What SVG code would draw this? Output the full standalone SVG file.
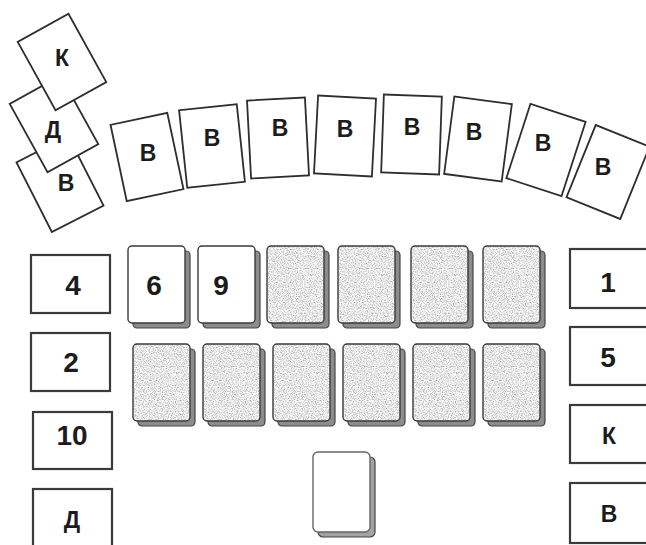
<svg xmlns="http://www.w3.org/2000/svg" xmlns:xlink="http://www.w3.org/1999/xlink" width="646" height="545" viewBox="0 0 646 545">
<style>
.card{fill:#fff;stroke:#2e2e2e;stroke-width:1.8}
.box{fill:#fff;stroke:#3a3a3a;stroke-width:2.2}
.face{fill:#fff;stroke:#3a3a3a;stroke-width:1.4}
.back{fill:#8c8c8c;stroke:#444;stroke-width:1.2}
.rim{fill:none;stroke:#3a3a3a;stroke-width:1.4}
.lbl{font-family:"Liberation Sans",Arial,sans-serif;font-weight:bold;text-anchor:middle;fill:#1c1c1c}
.big{font-size:28px}
.let{font-size:23px}
</style>
<defs>
<filter id="tex" x="0" y="0" width="1" height="1">
<feTurbulence type="fractalNoise" baseFrequency="0.85" numOctaves="2" seed="7" result="n"/>
<feColorMatrix in="n" type="matrix" values="1.3 0 0 0 0.15  1.3 0 0 0 0.15  1.3 0 0 0 0.15  0 0 0 0 1" result="g"/>
<feComposite in="g" in2="SourceGraphic" operator="in"/>
</filter>
<g id="slab"><rect x="5" y="5" width="57" height="77" rx="4" class="back"/></g>
<g id="greyface"><rect x="0" y="0" width="57" height="77" rx="4" fill="#bbb" filter="url(#tex)"/><rect x="0" y="0" width="57" height="77" rx="4" class="rim"/></g>
<g id="whiteface"><rect x="0" y="0" width="57" height="77" rx="4" class="face"/></g>
</defs>

<g id="connectors"/>

<!-- top-left stacked cards -->
<g id="tl-v"><rect x="-29" y="-39" width="58" height="78" class="card" transform="translate(60 184) rotate(-27)"/><text x="66" y="191" class="lbl let">В</text></g>
<g id="tl-d"><rect x="-29" y="-39" width="58" height="78" class="card" transform="translate(54 124) rotate(-29)"/><text x="53" y="138" class="lbl let">Д</text></g>
<g id="tl-k"><rect x="-29" y="-39" width="58" height="78" class="card" transform="translate(62 62) rotate(-29)"/><text x="62" y="66" class="lbl let">К</text></g>

<!-- arc of cards -->
<g id="arc-1"><rect x="-29" y="-39" width="58" height="78" class="card" transform="translate(147 157) rotate(-12)"/><text x="148" y="161" class="lbl let">В</text></g>
<g id="arc-2"><rect x="-29" y="-39" width="58" height="78" class="card" transform="translate(212 146) rotate(-6)"/><text x="212" y="146" class="lbl let">В</text></g>
<g id="arc-3"><rect x="-29" y="-39" width="58" height="78" class="card" transform="translate(278 138) rotate(-3)"/><text x="280" y="136" class="lbl let">В</text></g>
<g id="arc-4"><rect x="-29" y="-39" width="58" height="78" class="card" transform="translate(345 136) rotate(3)"/><text x="345" y="137" class="lbl let">В</text></g>
<g id="arc-5"><rect x="-29" y="-39" width="58" height="78" class="card" transform="translate(411.5 134.5) rotate(2)"/><text x="412" y="135" class="lbl let">В</text></g>
<g id="arc-6"><rect x="-29" y="-39" width="58" height="78" class="card" transform="translate(478 139) rotate(7.5)"/><text x="474" y="140" class="lbl let">В</text></g>
<g id="arc-7"><rect x="-29" y="-39" width="58" height="78" class="card" transform="translate(546 150) rotate(18)"/><text x="543" y="151" class="lbl let">В</text></g>
<g id="arc-8"><rect x="-29" y="-39" width="58" height="78" class="card" transform="translate(608 172) rotate(22)"/><text x="603" y="175" class="lbl let">В</text></g>

<!-- left column -->
<g id="left-4"><rect x="31" y="255" width="79" height="58" class="box"/><text x="73" y="295" class="lbl big">4</text></g>
<g id="left-2"><rect x="31" y="333" width="79" height="58" class="box"/><text x="71" y="372" class="lbl big">2</text></g>
<g id="left-10"><rect x="33" y="412" width="79" height="57" class="box"/><text x="72" y="445" class="lbl big">10</text></g>
<g id="left-d"><rect x="33" y="489" width="79" height="62" class="box"/><text x="72" y="528" class="lbl let">Д</text></g>

<!-- right column -->
<g id="right-1"><rect x="570" y="249" width="82" height="59" class="box"/><text x="608" y="292" class="lbl big">1</text></g>
<g id="right-5"><rect x="570" y="327" width="82" height="58" class="box"/><text x="608" y="367" class="lbl big">5</text></g>
<g id="right-k"><rect x="570" y="405" width="82" height="58" class="box"/><text x="609" y="444" class="lbl let">К</text></g>
<g id="right-v"><rect x="570" y="483" width="82" height="60" class="box"/><text x="609" y="522" class="lbl let">В</text></g>

<!-- piles row 1 -->
<g id="pile-6" transform="translate(128 246)"><use xlink:href="#slab"/><use xlink:href="#whiteface"/><text x="26" y="49" class="lbl big">6</text></g>
<g id="pile-9" transform="translate(198 246)"><use xlink:href="#slab"/><use xlink:href="#whiteface"/><text x="23" y="49" class="lbl big">9</text></g>
<g id="pile-r1c3" transform="translate(267 246)"><use xlink:href="#slab"/><use xlink:href="#greyface"/></g>
<g id="pile-r1c4" transform="translate(338 246)"><use xlink:href="#slab"/><use xlink:href="#greyface"/></g>
<g id="pile-r1c5" transform="translate(411 246)"><use xlink:href="#slab"/><use xlink:href="#greyface"/></g>
<g id="pile-r1c6" transform="translate(483 246)"><use xlink:href="#slab"/><use xlink:href="#greyface"/></g>

<!-- piles row 2 -->
<g id="pile-r2c1" transform="translate(133 344)"><use xlink:href="#slab"/><use xlink:href="#greyface"/></g>
<g id="pile-r2c2" transform="translate(203 344)"><use xlink:href="#slab"/><use xlink:href="#greyface"/></g>
<g id="pile-r2c3" transform="translate(273 344)"><use xlink:href="#slab"/><use xlink:href="#greyface"/></g>
<g id="pile-r2c4" transform="translate(343 344)"><use xlink:href="#slab"/><use xlink:href="#greyface"/></g>
<g id="pile-r2c5" transform="translate(413 344)"><use xlink:href="#slab"/><use xlink:href="#greyface"/></g>
<g id="pile-r2c6" transform="translate(483 344)"><use xlink:href="#slab"/><use xlink:href="#greyface"/></g>

<!-- bottom deck -->
<g id="deck" transform="translate(313 452)"><rect x="5" y="5" width="57" height="80" rx="5" class="back" fill-opacity="0.8"/><rect x="0" y="0" width="57" height="80" rx="5" fill="#fff" stroke="#666" stroke-width="1.4"/></g>
</svg>
